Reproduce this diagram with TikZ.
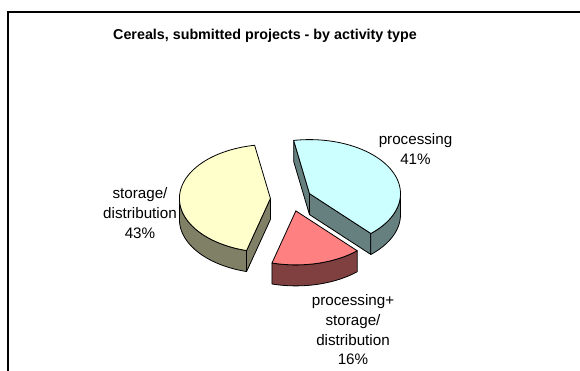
\documentclass[tikz,border=0pt]{standalone}
\usepackage{fontspec}
\setmainfont{Liberation Sans}

\definecolor{procTop}{HTML}{CCFFFF}
\definecolor{procSide}{HTML}{668080}
\definecolor{storTop}{HTML}{FFFFCC}
\definecolor{storSide}{HTML}{808066}
\definecolor{bothTop}{HTML}{FF8080}
\definecolor{bothSide}{HTML}{804040}

\tikzset{
  face/.style={draw=black, line width=0.8pt, line join=round},
  lbl/.style={font=\fontsize{15.2}{19.7}\selectfont, align=center, inner sep=0pt},
  charttitle/.style={font=\bfseries\fontsize{14.3}{17}\selectfont, inner sep=0pt},
  frameline/.style={draw=black, line width=1.3pt},
}

% pie geometry (units of 1pt, y axis pointing down)
\def\pcx{291}\def\pcy{199}% centre of the unexploded pie
\def\pa{91}\def\pb{54}% radii of the top ellipse
\def\ph{21}% thickness
\def\pd{20.6}% explosion distance

% centre of an exploded slice: #1 start angle, #2 end angle
\newcommand\slcentre[2]{%
  \pgfmathsetmacro\slMid{(#1+#2)/2}%
  \pgfmathsetmacro\slX{\pcx+\pd*cos(\slMid)}%
  \pgfmathsetmacro\slY{\pcy-\pd*\pb/\pa*sin(\slMid)}%
}
% outer wall between angles #1 and #2, colour #3
\newcommand\slwall[3]{%
  \filldraw[face, fill=#3]
    plot[domain=#1:#2, samples=40] ({\slX+\pa*cos(\x)}, {\slY-\pb*sin(\x)})
    -- plot[domain=#2:#1, samples=40] ({\slX+\pa*cos(\x)}, {\slY+\ph-\pb*sin(\x)})
    -- cycle;
}
% radial cut face at angle #1, colour #2
\newcommand\slcut[2]{%
  \filldraw[face, fill=#2]
    (\slX,\slY) -- ({\slX+\pa*cos(#1)}, {\slY-\pb*sin(#1)})
    -- ({\slX+\pa*cos(#1)}, {\slY+\ph-\pb*sin(#1)})
    -- (\slX,{\slY+\ph}) -- cycle;
}
% top face from #1 to #2, colour #3
\newcommand\sltop[3]{%
  \filldraw[face, fill=#3]
    (\slX,\slY) -- plot[domain=#1:#2, samples=60] ({\slX+\pa*cos(\x)}, {\slY-\pb*sin(\x)})
    -- cycle;
}

\begin{document}
\begin{tikzpicture}[x=1pt, y=-1pt]
  \useasboundingbox (0,0) rectangle (580,371);

  % chart area border
  \draw[frameline] (8,372) -- (8,12) -- (581,12);

  % processing 41%
  \slcentre{-47.6}{100}
  \slcut{100}{procSide}
  \slcut{-47.6}{procSide}
  \slwall{-47.6}{0}{procSide}
  \sltop{-47.6}{100}{procTop}

  % storage/distribution 43%
  \slcentre{100}{254.8}
  \slcut{254.8}{storSide}
  \slwall{180}{254.8}{storSide}
  \sltop{100}{254.8}{storTop}

  % processing + storage/distribution 16%
  \slcentre{-105.2}{-47.6}
  \slwall{-105.2}{-47.6}{bothSide}
  \sltop{-105.2}{-47.6}{bothTop}

  % texts
  \node[charttitle] (title) at (265,36) {Cereals, submitted projects - by activity type};
  \node[lbl] (proc) at (415.5,149) {processing\\41\%};
  \node[lbl] (stor) at (140,213) {storage/\\distribution\\43\%};
  \node[lbl] (both) at (353,330) {processing+\\storage/\\distribution\\16\%};
\end{tikzpicture}
\end{document}
